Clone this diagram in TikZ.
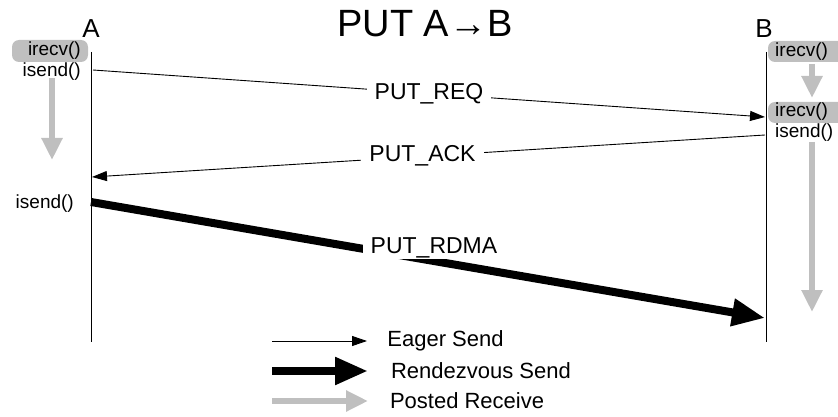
\documentclass[tikz,border=0pt]{standalone}
\usepackage{fontspec}
\setmainfont{Liberation Sans}
\usetikzlibrary{arrows.meta}
\begin{document}
\begin{tikzpicture}
        [x=1pt, y=-1pt, inner sep=2pt,
        call/.style={font=\fontsize{19}{19}\selectfont},
        callbox/.style={fill=black!25, rounded corners=7pt},
        msg/.style={font=\fontsize{23}{23}\selectfont, fill=white, inner xsep=8pt, inner ysep=1pt},
        lifeline/.style={black, line width=1pt},
        eager/.style={line width=0.9pt, -{Triangle[length=15pt, width=10pt]}},
        rendezvous/.style={line width=8pt, -{Triangle[length=33pt, width=26pt]}},
        posted/.style={black!25, line width=6pt, -{Triangle[length=22pt, width=20pt]}},
        legend/.style={font=\fontsize{22}{22}\selectfont, anchor=west, text=black}]

        \useasboundingbox (0,0) rectangle (838,417);

        % title and process names
        \node[font=\fontsize{38}{38}\selectfont] (title) at (425,24) {PUT A→B};
        \node[font=\fontsize{26}{26}\selectfont] (A) at (91,29) {A};
        \node[font=\fontsize{26}{26}\selectfont] (B) at (764,29) {B};

        % lifelines
        \coordinate (Atop) at (91,52);
        \coordinate (Abot) at (91,342);
        \coordinate (Btop) at (766,52);
        \coordinate (Bbot) at (766,342);
        \draw[lifeline] (Atop) -- (Abot);
        \draw[lifeline] (Btop) -- (Bbot);

        % calls on A
        \fill[callbox] (12,40) rectangle (88,62);
        \node[call, anchor=east] (recvA) at (83,51) {irecv()};
        \node[call, anchor=east] (sendA) at (83,72) {isend()};
        \node[call, anchor=east] (sendA2) at (76,204) {isend()};
        \draw[posted] (52,78) -- (52,160);

        % calls on B
        \fill[callbox] (768,41) rectangle (850,62);
        \fill[callbox] (768,102) rectangle (850,123);
        \node[call, anchor=west] (recvB) at (773,52) {irecv()};
        \node[call, anchor=west] (recvB2) at (773,112) {irecv()};
        \node[call, anchor=west] (sendB) at (773,133) {isend()};
        \draw[posted] (812,64) -- (812,98);
        \draw[posted] (812,142) -- (812,312);

        % messages
        \coordinate (reqA) at (93,70);
        \coordinate (reqB) at (765,117);
        \coordinate (ackB) at (765,135);
        \coordinate (ackA) at (92,177);
        \coordinate (rdmaA) at (91,202);
        \coordinate (rdmaB) at (765,318);

        \draw[eager] (reqA) -- (reqB) node[msg, pos=0.5] {PUT\_REQ};
        \draw[eager] (ackB) -- (ackA) node[msg, pos=0.5, xshift=-6pt] {PUT\_ACK};
        \draw[rendezvous] (rdmaA) -- (rdmaB) node[msg, pos=0.5, xshift=6pt, yshift=12pt] {PUT\_RDMA};

        % legend
        \coordinate (l1) at (272,341);
        \coordinate (l2) at (272,371);
        \coordinate (l3) at (272,401);
        \draw[eager] (l1) -- ++(95,0) node[legend, xshift=18pt] {Eager Send};
        \draw[rendezvous] (l2) -- ++(96,0) node[legend, xshift=17pt] {Rendezvous Send};
        \draw[posted] (l3) -- ++(96,0) node[legend, xshift=17pt] {Posted Receive};
    \end{tikzpicture}
\end{document}
